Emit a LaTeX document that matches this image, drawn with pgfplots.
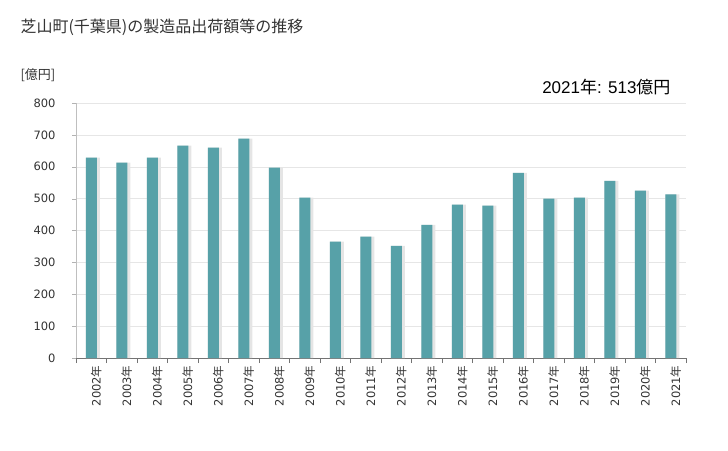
\documentclass[border=0pt]{standalone}
\usepackage{pgfplots}
\pgfplotsset{compat=1.18}
\usepackage{fontspec}
\setmainfont{Liberation Sans}
\newfontfamily\cjk{Noto Sans CJK JP}
\newfontfamily\tickfont{DejaVu Sans}
\definecolor{barcol}{RGB}{87,161,168}
\definecolor{gridcol}{RGB}{230,230,230}
\definecolor{txtcol}{RGB}{51,51,51}
\newcommand{\nen}{{\cjk 年}}
\begin{document}
\begin{tikzpicture}
\path[use as bounding box] (0pt,0pt) rectangle (728pt,450pt);
\node[anchor=west,text=txtcol,font=\fontsize{16}{18}\selectfont\cjk] at (17pt,423pt) {芝山町(千葉県)の製造品出荷額等の推移};
\node[anchor=west,text=txtcol,font=\fontsize{13}{15}\selectfont\cjk] at (17pt,375pt) {[億円]};
\node[anchor=east,text=black,font=\fontsize{17}{19}\selectfont] at (674pt,363pt) {2021\nen: 513{\cjk 億円}};
\begin{axis}[
  at={(76pt,92pt)}, anchor=south west,
  scale only axis, width=610pt, height=255pt,
  xmin=-0.5, xmax=19.5, ymin=0, ymax=800,
  axis x line*=bottom, axis y line*=left,
  x axis line style={draw=black!55},
  y axis line style={draw=black!25},
  ytick={0,100,...,800},
  ymajorgrids, grid style={draw=gridcol},
  tick align=outside,
  major tick length=4pt,
  ytick style={draw=black!30},
  xtick={0,...,19},
  xticklabels={2002\nen,2003\nen,2004\nen,2005\nen,2006\nen,2007\nen,2008\nen,2009\nen,2010\nen,2011\nen,2012\nen,2013\nen,2014\nen,2015\nen,2016\nen,2017\nen,2018\nen,2019\nen,2020\nen,2021\nen},
  xtick style={draw=none},
  minor xtick={-0.5,0.5,...,19.5},
  minor tick length=5pt,
  minor x tick style={draw=black!55},
  /pgf/number format/assume math mode=true,
  xticklabel style={rotate=90, anchor=east, font=\fontsize{11.5}{14}\selectfont\tickfont, text=txtcol, yshift=-5pt},
  yticklabel style={font=\fontsize{11.5}{14}\selectfont\tickfont, text=txtcol, xshift=-13pt},
  clip=false,
]
\addplot[ybar, bar width=14pt, bar shift=1.5pt, fill=black!10, draw=none]
coordinates {(0,629) (1,613) (2,629) (3,666) (4,660) (5,688) (6,597) (7,503) (8,365) (9,381)
(10,352) (11,418) (12,481) (13,478) (14,581) (15,500) (16,503) (17,556) (18,525) (19,513)};
\addplot[ybar, bar width=11pt, bar shift=0pt, fill=barcol, draw=none]
coordinates {(0,629) (1,613) (2,629) (3,666) (4,660) (5,688) (6,597) (7,503) (8,365) (9,381)
(10,352) (11,418) (12,481) (13,478) (14,581) (15,500) (16,503) (17,556) (18,525) (19,513)};
\end{axis}
\end{tikzpicture}
\end{document}
